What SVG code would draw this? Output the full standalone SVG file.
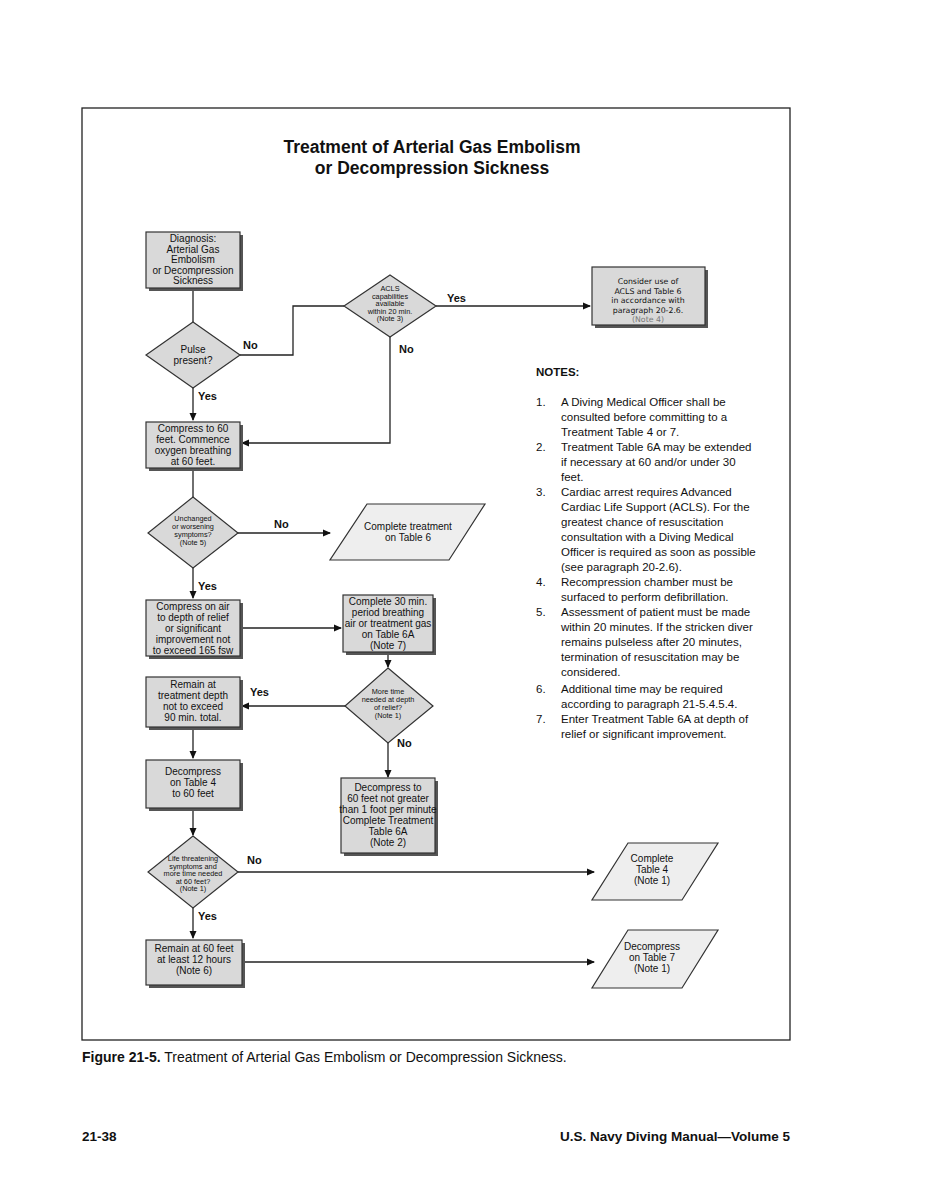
<svg xmlns="http://www.w3.org/2000/svg" width="926" height="1198" viewBox="0 0 926 1198">
<style>
text{font-family:"Liberation Sans",Arial,sans-serif;fill:#111}
.t{font-size:10px;text-anchor:middle}
.c{font-family:"DejaVu Sans","Liberation Sans",sans-serif;font-size:7.8px;text-anchor:middle}
.s{font-size:7.3px;text-anchor:middle}
.lbl{font-size:11px;font-weight:bold}
.n{font-size:11.5px}
.box{fill:#d9d9d9;stroke:#333;stroke-width:1.2}
.sh{fill:#555}
.dia{fill:#d9d9d9;stroke:#333;stroke-width:1.2}
.par{fill:#eeeeee;stroke:#333;stroke-width:1.2}
.ln{fill:none;stroke:#222;stroke-width:1.3}
</style>
<defs>
<marker id="ah" markerWidth="8" markerHeight="8" refX="7" refY="4" orient="auto" markerUnits="userSpaceOnUse">
<path d="M0,0.5 L8,4 L0,7.5 Z" fill="#111"/>
</marker>
</defs>
<rect width="926" height="1198" fill="#fff"/>
<rect x="82" y="108" width="708" height="932" fill="none" stroke="#222" stroke-width="1.3"/>
<text x="432" y="153" font-size="17.5" font-weight="bold" text-anchor="middle">Treatment of Arterial Gas Embolism</text>
<text x="432" y="173.5" font-size="17.5" font-weight="bold" text-anchor="middle">or Decompression Sickness</text>

<g id="connectors">
<path class="ln" d="M193,288 V322"/>
<path class="ln" d="M240,355 H293 V306 H344"/>
<path class="ln" d="M436,306 H590" marker-end="url(#ah)"/>
<path class="ln" d="M390,337 V443 H242" marker-end="url(#ah)"/>
<path class="ln" d="M193,388 V420" marker-end="url(#ah)"/>
<path class="ln" d="M193,468 V497"/>
<path class="ln" d="M238,533 H330" marker-end="url(#ah)"/>
<path class="ln" d="M193,568 V598" marker-end="url(#ah)"/>
<path class="ln" d="M240,628 H341" marker-end="url(#ah)"/>
<path class="ln" d="M388,652 V667" marker-end="url(#ah)"/>
<path class="ln" d="M345,706 H242" marker-end="url(#ah)"/>
<path class="ln" d="M388,743 V777" marker-end="url(#ah)"/>
<path class="ln" d="M193,727 V758" marker-end="url(#ah)"/>
<path class="ln" d="M193,808 V835" marker-end="url(#ah)"/>
<path class="ln" d="M238,872 H594" marker-end="url(#ah)"/>
<path class="ln" d="M193,908 V938" marker-end="url(#ah)"/>
<path class="ln" d="M242,962 H594" marker-end="url(#ah)"/>
<text class="lbl" x="243" y="349">No</text>
<text class="lbl" x="447" y="302">Yes</text>
<text class="lbl" x="399" y="353">No</text>
<text class="lbl" x="198" y="400">Yes</text>
<text class="lbl" x="274" y="528">No</text>
<text class="lbl" x="198" y="590">Yes</text>
<text class="lbl" x="250" y="696">Yes</text>
<text class="lbl" x="397" y="747">No</text>
<text class="lbl" x="247" y="864">No</text>
<text class="lbl" x="198" y="920">Yes</text>
</g>

<g id="diagnosis">
<rect class="sh" x="149" y="235" width="94" height="56"/>
<rect class="box" x="146" y="232" width="94" height="56"/>
<text class="t" x="193" y="242" font-size="9.5">Diagnosis:</text>
<text class="t" x="193" y="252.5" font-size="9.5">Arterial Gas</text>
<text class="t" x="193" y="263" font-size="9.5">Embolism</text>
<text class="t" x="193" y="273.5" font-size="9.5">or Decompression</text>
<text class="t" x="193" y="284" font-size="9.5">Sickness</text>
</g>

<g id="pulse">
<polygon class="dia" points="193,322 240,355 193,388 146,355"/>
<text class="t" x="193" y="353">Pulse</text>
<text class="t" x="193" y="364">present?</text>
</g>

<g id="acls">
<polygon class="dia" points="390,275 436,306 390,337 344,306"/>
<text class="s" x="390" y="291">ACLS</text>
<text class="s" x="390" y="298.5">capabilities</text>
<text class="s" x="390" y="306">available</text>
<text class="s" x="390" y="313.5">within 20 min.</text>
<text class="s" x="390" y="321">(Note 3)</text>
</g>

<g id="consider">
<rect class="sh" x="595" y="270" width="113" height="58"/>
<rect class="box" x="592" y="267" width="113" height="58"/>
<text class="c" x="648" y="284">Consider use of</text>
<text class="c" x="648" y="293.5">ACLS and Table 6</text>
<text class="c" x="648" y="303">in accordance with</text>
<text class="c" x="648" y="312.5">paragraph 20-2.6.</text>
<text class="c" x="648" y="322" style="fill:#777">(Note 4)</text>
</g>

<g id="compress60">
<rect class="sh" x="149" y="425" width="94" height="46"/>
<rect class="box" x="146" y="422" width="94" height="46"/>
<text class="t" x="193" y="432">Compress to 60</text>
<text class="t" x="193" y="443">feet. Commence</text>
<text class="t" x="193" y="454">oxygen breathing</text>
<text class="t" x="193" y="465">at 60 feet.</text>
</g>

<g id="unchanged">
<polygon class="dia" points="193,497 238,533 193,568 148,533"/>
<text class="s" x="193" y="521">Unchanged</text>
<text class="s" x="193" y="529">or worsening</text>
<text class="s" x="193" y="537">symptoms?</text>
<text class="s" x="193" y="545">(Note 5)</text>
</g>

<g id="complete6">
<polygon class="par" points="367,504 485,504 449,560 330,560"/>
<text class="t" x="408" y="530">Complete treatment</text>
<text class="t" x="408" y="541">on Table 6</text>
</g>

<g id="compressair">
<rect class="sh" x="149" y="603" width="94" height="56"/>
<rect class="box" x="146" y="600" width="94" height="56"/>
<text class="t" x="193" y="610">Compress on air</text>
<text class="t" x="193" y="621">to depth of relief</text>
<text class="t" x="193" y="632">or significant</text>
<text class="t" x="193" y="643">improvement not</text>
<text class="t" x="193" y="654">to exceed 165 fsw</text>
</g>

<g id="complete30">
<rect class="sh" x="346" y="598" width="90" height="57"/>
<rect class="box" x="343" y="595" width="90" height="57"/>
<text class="t" x="388" y="605">Complete 30 min.</text>
<text class="t" x="388" y="616">period breathing</text>
<text class="t" x="388" y="627">air or treatment gas</text>
<text class="t" x="388" y="638">on Table 6A</text>
<text class="t" x="388" y="649">(Note 7)</text>
</g>

<g id="moretime">
<polygon class="dia" points="388,668 433,706 388,743 345,706"/>
<text class="s" x="388" y="694">More time</text>
<text class="s" x="388" y="702">needed at depth</text>
<text class="s" x="388" y="710">of relief?</text>
<text class="s" x="388" y="718">(Note 1)</text>
</g>

<g id="remain">
<rect class="sh" x="149" y="680" width="94" height="50"/>
<rect class="box" x="146" y="677" width="94" height="50"/>
<text class="t" x="193" y="688">Remain at</text>
<text class="t" x="193" y="699">treatment depth</text>
<text class="t" x="193" y="710">not to exceed</text>
<text class="t" x="193" y="721">90 min. total.</text>
</g>

<g id="decompress4">
<rect class="sh" x="149" y="763" width="94" height="48"/>
<rect class="box" x="146" y="760" width="94" height="48"/>
<text class="t" x="193" y="775">Decompress</text>
<text class="t" x="193" y="786">on Table 4</text>
<text class="t" x="193" y="797">to 60 feet</text>
</g>

<g id="decompress6a">
<rect class="sh" x="344" y="781" width="94" height="75"/>
<rect class="box" x="341" y="778" width="94" height="75"/>
<text class="t" x="388" y="791">Decompress to</text>
<text class="t" x="388" y="802">60 feet not greater</text>
<text class="t" x="388" y="813">than 1 foot per minute</text>
<text class="t" x="388" y="824">Complete Treatment</text>
<text class="t" x="388" y="835">Table 6A</text>
<text class="t" x="388" y="846">(Note 2)</text>
</g>

<g id="lifethreat">
<polygon class="dia" points="193,836 238,872 193,908 148,872"/>
<text class="s" x="193" y="861" font-size="6.6">Life threatening</text>
<text class="s" x="193" y="868.5" font-size="6.6">symptoms and</text>
<text class="s" x="193" y="876" font-size="6.6">more time needed</text>
<text class="s" x="193" y="883.5" font-size="6.6">at 60 feet?</text>
<text class="s" x="193" y="891" font-size="6.6">(Note 1)</text>
</g>

<g id="complete4">
<polygon class="par" points="628,843 718,843 682,900 592,900"/>
<text class="t" x="652" y="862">Complete</text>
<text class="t" x="652" y="873">Table 4</text>
<text class="t" x="652" y="884">(Note 1)</text>
</g>

<g id="remain60">
<rect class="sh" x="149" y="943" width="96" height="45"/>
<rect class="box" x="146" y="940" width="96" height="45"/>
<text class="t" x="194" y="952">Remain at 60 feet</text>
<text class="t" x="194" y="963">at least 12 hours</text>
<text class="t" x="194" y="974">(Note 6)</text>
</g>

<g id="decompress7">
<polygon class="par" points="628,930 718,930 682,988 592,988"/>
<text class="t" x="652" y="950">Decompress</text>
<text class="t" x="652" y="961">on Table 7</text>
<text class="t" x="652" y="972">(Note 1)</text>
</g>

<g id="notes">
<text class="n" x="536" y="376" font-weight="bold">NOTES:</text>
<text class="n" x="536" y="406">1.</text>
<text class="n" x="561" y="406">A Diving Medical Officer shall be</text>
<text class="n" x="561" y="421">consulted before committing to a</text>
<text class="n" x="561" y="436">Treatment Table 4 or 7.</text>
<text class="n" x="536" y="451">2.</text>
<text class="n" x="561" y="451">Treatment Table 6A may be extended</text>
<text class="n" x="561" y="466">if necessary at 60 and/or under 30</text>
<text class="n" x="561" y="481">feet.</text>
<text class="n" x="536" y="496">3.</text>
<text class="n" x="561" y="496">Cardiac arrest requires Advanced</text>
<text class="n" x="561" y="511">Cardiac Life Support (ACLS). For the</text>
<text class="n" x="561" y="526">greatest chance of resuscitation</text>
<text class="n" x="561" y="541">consultation with a Diving Medical</text>
<text class="n" x="561" y="556">Officer is required as soon as possible</text>
<text class="n" x="561" y="571">(see paragraph 20-2.6).</text>
<text class="n" x="536" y="586">4.</text>
<text class="n" x="561" y="586">Recompression chamber must be</text>
<text class="n" x="561" y="601">surfaced to perform defibrillation.</text>
<text class="n" x="536" y="616">5.</text>
<text class="n" x="561" y="616">Assessment of patient must be made</text>
<text class="n" x="561" y="631">within 20 minutes. If the stricken diver</text>
<text class="n" x="561" y="646">remains pulseless after 20 minutes,</text>
<text class="n" x="561" y="661">termination of resuscitation may be</text>
<text class="n" x="561" y="676">considered.</text>
<text class="n" x="536" y="693">6.</text>
<text class="n" x="561" y="693">Additional time may be required</text>
<text class="n" x="561" y="708">according to paragraph 21-5.4.5.4.</text>
<text class="n" x="536" y="723">7.</text>
<text class="n" x="561" y="723">Enter Treatment Table 6A at depth of</text>
<text class="n" x="561" y="738">relief or significant improvement.</text>
</g>

<text x="82" y="1062" font-size="14"><tspan font-weight="bold">Figure 21-5.</tspan>  Treatment of Arterial Gas Embolism or Decompression Sickness.</text>
<text x="82" y="1141" font-size="13.5" font-weight="bold">21-38</text>
<text x="790" y="1141" font-size="13.5" font-weight="bold" text-anchor="end">U.S. Navy Diving Manual—Volume 5</text>
</svg>
